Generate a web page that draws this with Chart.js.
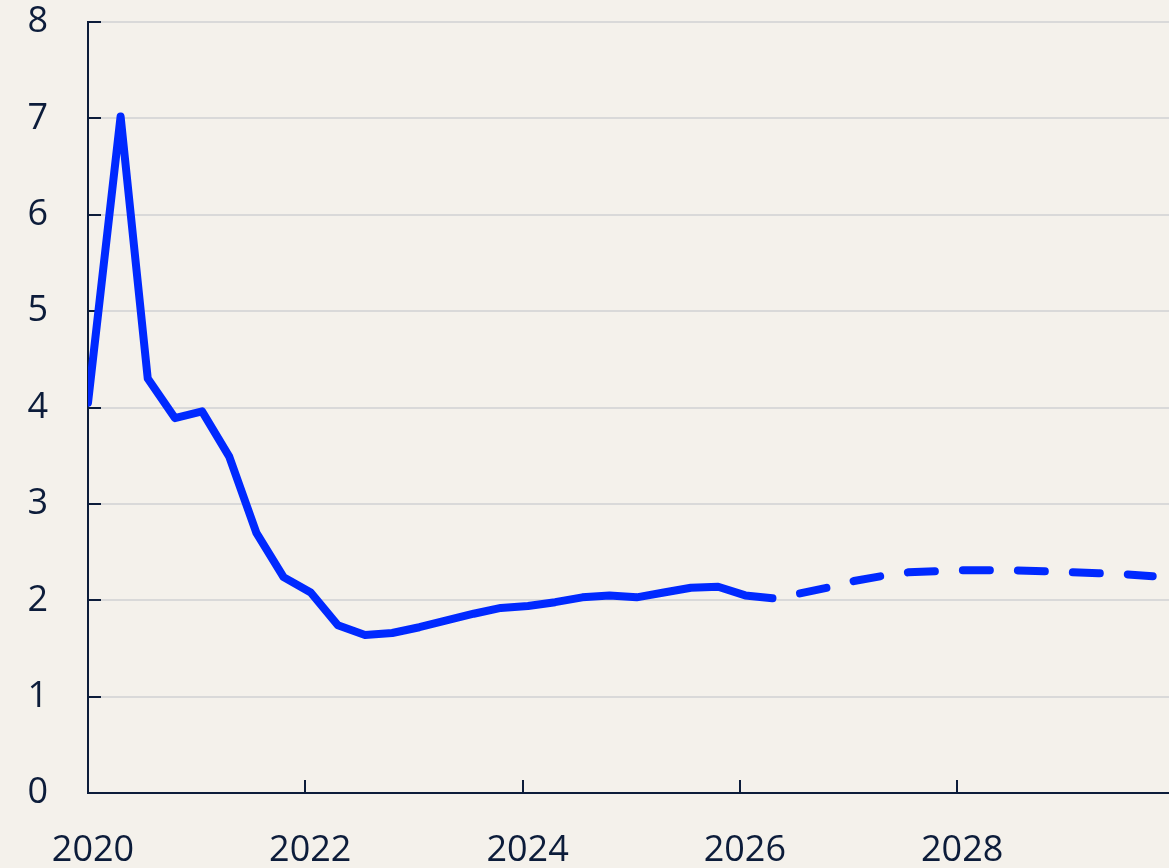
<!DOCTYPE html>
<html>
<head>
  <title>Rate outlook</title>
  <script src="https://cdn.jsdelivr.net/npm/chart.js"></script>
  <style>
    body { margin: 0; background: #f4f1eb; }
    #wrap { width: 1169px; height: 868px; }
  </style>
</head>
<body>
  <div id="wrap"><canvas id="rateChart"></canvas></div>

  <script>
    // Quarterly observations (decimal years) and values
    var actualDates = [2020.0, 2020.3, 2020.55, 2020.8, 2021.05, 2021.3, 2021.55, 2021.8,
      2022.05, 2022.3, 2022.55, 2022.8, 2023.05, 2023.3, 2023.55, 2023.8,
      2024.05, 2024.3, 2024.55, 2024.8, 2025.05, 2025.3, 2025.55, 2025.8,
      2026.05, 2026.3];
    var actualValues = [4.05, 7.02, 4.30, 3.89, 3.96, 3.49, 2.70, 2.24,
      2.08, 1.74, 1.64, 1.66, 1.72, 1.79, 1.86, 1.92,
      1.94, 1.98, 2.03, 2.05, 2.03, 2.08, 2.13, 2.14,
      2.05, 2.02];

    // Projection (dashed)
    var forecastDates = [2026.3, 2026.55, 2026.8, 2027.05, 2027.3, 2027.55, 2027.8,
      2028.05, 2028.3, 2028.55, 2028.8, 2029.05, 2029.3, 2029.55, 2029.8];
    var forecastValues = [2.02, 2.07, 2.13, 2.20, 2.25, 2.29, 2.30,
      2.31, 2.31, 2.31, 2.30, 2.29, 2.28, 2.27, 2.25];

    var yTicks = [0, 1, 2, 3, 4, 5, 6, 7, 8];
    var xTicks = [2020, 2022, 2024, 2026, 2028];

    var navy = '#0c1c3a';
    var blue = '#0029ff';

    function toPoints(xs, ys) {
      return xs.map(function (x, i) { return { x: x, y: ys[i] }; });
    }

    // paint the cream background
    var bgPlugin = {
      id: 'bg',
      beforeDraw: function (chart) {
        var c = chart.ctx;
        c.save();
        c.fillStyle = '#f4f1eb';
        c.fillRect(0, 0, chart.width, chart.height);
        c.restore();
      }
    };

    // short ticks pointing into the plot
    var innerTicks = {
      id: 'innerTicks',
      beforeDatasetsDraw: function (chart) {
        var c = chart.ctx, area = chart.chartArea;
        var xs = chart.scales.x, ys = chart.scales.y;
        c.save();
        c.strokeStyle = navy;
        c.lineWidth = 2;
        c.beginPath();
        yTicks.forEach(function (v) {
          var py = Math.round(ys.getPixelForValue(v));
          c.moveTo(area.left, py);
          c.lineTo(area.left + 13, py);
        });
        xTicks.forEach(function (v) {
          var px = Math.round(xs.getPixelForValue(v));
          c.moveTo(px, area.bottom);
          c.lineTo(px, area.bottom - 13);
        });
        c.stroke();
        c.restore();
      }
    };

    var ctx = document.getElementById('rateChart').getContext('2d');
    var chart = new Chart(ctx, {
      type: 'line',
      data: {
        datasets: [
          {
            label: 'Actual',
            data: toPoints(actualDates, actualValues),
            borderColor: blue,
            borderWidth: 8,
            pointRadius: 0,
            borderJoinStyle: 'round',
            borderCapStyle: 'round',
            tension: 0
          },
          {
            label: 'Projection',
            data: toPoints(forecastDates, forecastValues),
            borderColor: blue,
            borderWidth: 8,
            pointRadius: 0,
            borderDash: [27, 28],
            borderDashOffset: 27,
            borderJoinStyle: 'round',
            borderCapStyle: 'round',
            tension: 0
          }
        ]
      },
      options: {
        responsive: true,
        maintainAspectRatio: false,
        animation: false,
        layout: { padding: { top: 22, right: 0, left: 0, bottom: 0 } },
        plugins: {
          legend: { display: false },
          tooltip: { enabled: false }
        },
        scales: {
          x: {
            type: 'linear',
            min: 2020,
            max: 2029.95,
            grid: { color: 'rgba(0,0,0,0)', drawTicks: false },
            border: { display: true, color: navy, width: 2 },
            afterBuildTicks: function (s) {
              s.ticks = xTicks.map(function (v) { return { value: v }; });
            },
            ticks: {
              autoSkip: false,
              maxRotation: 0,
              padding: 36,
              labelOffset: 5,
              color: navy,
              font: { family: 'Open Sans', size: 36 },
              callback: function (v) { return String(v); }
            },
            afterFit: function (s) {
              s.height = 75;
              s.paddingLeft = 0; s.paddingRight = 0;
            }
          },
          y: {
            min: 0,
            max: 8,
            grid: { color: '#d9d9d9', lineWidth: 2, drawTicks: false },
            border: { display: true, color: navy, width: 2 },
            ticks: {
              stepSize: 1,
              padding: 40,
              color: navy,
              font: { family: 'Open Sans', size: 36 }
            },
            afterFit: function (s) {
              s.width = 88;
              s.paddingTop = 0; s.paddingBottom = 0;
            }
          }
        }
      },
      plugins: [bgPlugin, innerTicks]
    });
  </script>
</body>
</html>
